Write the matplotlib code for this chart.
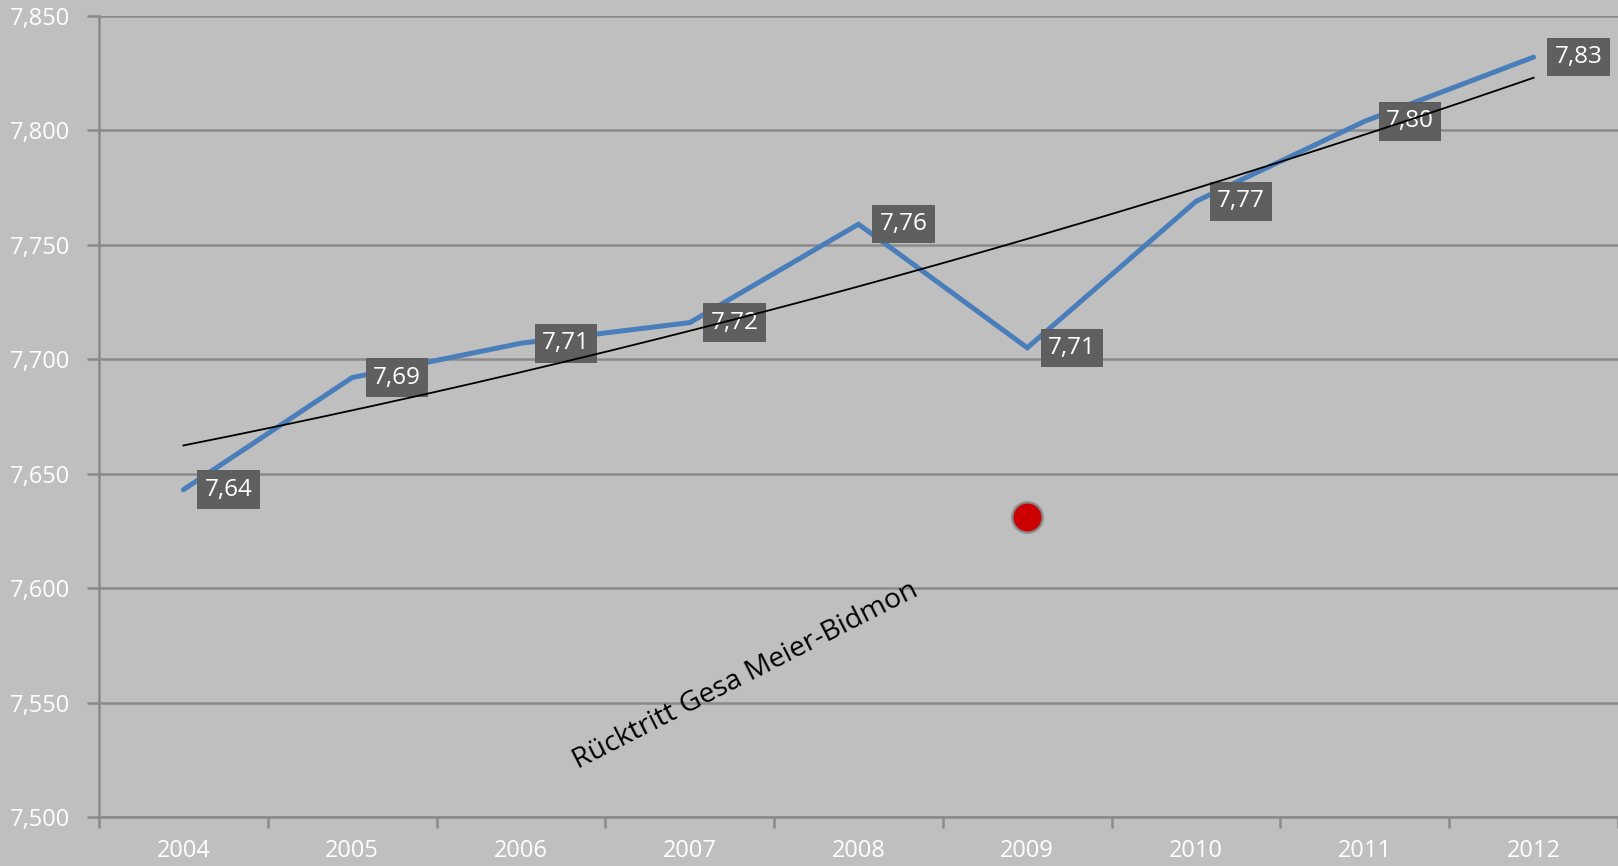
import numpy as np
import matplotlib.pyplot as plt
from matplotlib.ticker import FuncFormatter, FixedLocator

years = ['2004', '2005', '2006', '2007', '2008', '2009', '2010', '2011', '2012']
values = [7.643, 7.692, 7.707, 7.716, 7.759, 7.705, 7.769, 7.804, 7.832]
event_year = 5          # index of 2009
event_value = 7.631
event_text = 'Rücktritt Gesa Meier-Bidmon'

plt.rcParams['font.family'] = ['Open Sans', 'DejaVu Sans']
bg = '#bfbfbf'
grid = '#8a8a8a'

fig = plt.figure(figsize=(16.18, 8.66), dpi=100, facecolor=bg)
ax = fig.add_axes([0.0612, 0.0566, 0.9388, 0.925])
ax.set_facecolor(bg)

x = np.arange(len(years))
ax.plot(x, values, color='#4a7ebb', lw=3.6, solid_capstyle='round',
        solid_joinstyle='miter', zorder=3)

# trendline
coef = np.polyfit(x, values, 2)
xs = np.linspace(0, len(years) - 1, 200)
ax.plot(xs, np.polyval(coef, xs), color='black', lw=1.3, zorder=5)

# data labels
for xi, v in zip(x, values):
    ax.annotate(f'{v:.2f}'.replace('.', ','), (xi, v), xytext=(21, 0),
                textcoords='offset pixels', ha='left', va='center',
                color='white', fontsize=17.5, zorder=4,
                bbox=dict(boxstyle='square,pad=0.3', fc='#5f5f5f', ec='none'))

# event marker with soft shadow
ax.plot([event_year], [event_value], 'o', ms=24, color='#555555', alpha=0.35,
        mec='none', zorder=6)
ax.plot([event_year], [event_value], 'o', ms=22, color='#666666', alpha=0.5,
        mec='none', zorder=6)
ax.plot([event_year], [event_value], 'o', ms=20, color='#cc0000',
        mec='none', zorder=7)
ax.text(3.33, 7.5615, event_text, rotation=27, ha='center', va='center',
        fontsize=20.5, color='black', rotation_mode='anchor')

ax.set_ylim(7.5, 7.85)
ax.set_xlim(-0.5, len(years) - 0.5)
ax.set_yticks(np.arange(7.5, 7.851, 0.05))
ax.yaxis.set_major_formatter(FuncFormatter(lambda v, p: f'{v:.3f}'.replace('.', ',')))
ax.set_xticks(x)
ax.set_xticklabels(years)
ax.xaxis.set_minor_locator(FixedLocator(np.arange(-0.5, len(years), 1.0)))

ax.grid(axis='y', color=grid, lw=1.8)
ax.set_axisbelow(True)
for side in ['top', 'right']:
    ax.spines[side].set_visible(False)
for side in ['left', 'bottom']:
    ax.spines[side].set_color(grid)
    ax.spines[side].set_linewidth(1.8)

ax.tick_params(axis='y', colors=grid, labelcolor='white', labelsize=17,
               length=9, width=1.8, pad=12)
ax.tick_params(axis='x', which='major', length=0, labelcolor='white',
               labelsize=17, pad=16)
ax.tick_params(axis='x', which='minor', length=8, width=1.8, colors=grid)

fig.savefig('out.png', dpi=100, facecolor=bg)
